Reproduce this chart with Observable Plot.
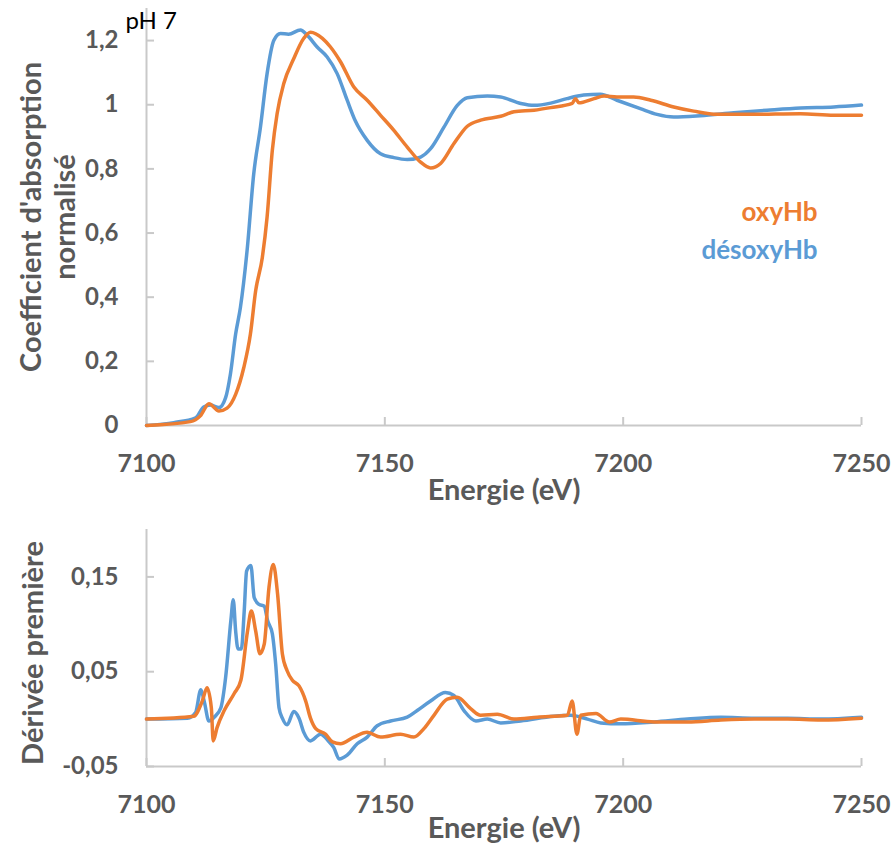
<!DOCTYPE html>
<html>
<head>
<meta charset="utf-8">
<script src="https://cdn.jsdelivr.net/npm/d3@7"></script>
<script src="https://cdn.jsdelivr.net/npm/@observablehq/plot@0.6"></script>
<style>
  body { margin: 0; background: #fff; }
  #wrap { position: relative; width: 893px; height: 843px; font-family: Lato, "Open Sans", sans-serif; }
  #top, #bottom { position: absolute; left: 0; }
  #top { top: 0; }
  #bottom { top: 515px; }
</style>
</head>
<body>
<div id="wrap"><div id="top"></div><div id="bottom"></div></div>
<script>
// ---- Data ----
const xTicks = [7100, 7150, 7200, 7250];
const yTicksTop = [0, 0.2, 0.4, 0.6, 0.8, 1, 1.2];
const yTickLabelsTop = ["0", "0,2", "0,4", "0,6", "0,8", "1", "1,2"];
const yTicksBottom = [-0.05, 0.05, 0.15];
const yTickLabelsBottom = ["-0,05", "0,05", "0,15"];
const seriesNames = ["oxyHb", "désoxyHb"];

// normalized absorption, désoxyHb
const deoxyE = [7100, 7105.7, 7110.3, 7112.0, 7113.4, 7115.2, 7116.6, 7117.6, 7118.7, 7119.7, 7121.1, 7122.5, 7123.9, 7125.3, 7126.7, 7128.1, 7129.8, 7132.3, 7133.7, 7135.8, 7137.9, 7140.0, 7142.1, 7143.8, 7146.3, 7149.1, 7151.9, 7154.7, 7157.5, 7159.6, 7162.4, 7165.2, 7167.3, 7171.5, 7174.3, 7178.5, 7181.3, 7184.8, 7188.2, 7191.7, 7195.2, 7198.7, 7203.6, 7207.1, 7210.6, 7216.2, 7223.2, 7230.2, 7237.2, 7244.2, 7250];
const deoxyMu = [0, 0.009, 0.024, 0.058, 0.064, 0.056, 0.087, 0.16, 0.285, 0.368, 0.545, 0.785, 0.93, 1.097, 1.20, 1.222, 1.22, 1.233, 1.217, 1.18, 1.149, 1.097, 1.014, 0.95, 0.889, 0.847, 0.835, 0.829, 0.837, 0.863, 0.93, 0.998, 1.022, 1.027, 1.024, 1.004, 0.998, 1.005, 1.019, 1.03, 1.033, 1.014, 0.988, 0.97, 0.962, 0.966, 0.975, 0.983, 0.99, 0.993, 0.999];

// normalized absorption, oxyHb
const oxyE = [7100, 7109.2, 7111.3, 7113.1, 7115.2, 7116.9, 7118.7, 7120.4, 7121.8, 7122.9, 7124.3, 7125.3, 7126.4, 7127.4, 7128.8, 7130.9, 7133.0, 7134.4, 7136.9, 7138.6, 7140.7, 7143.5, 7146.3, 7149.1, 7151.9, 7154.7, 7157.5, 7159.6, 7161.7, 7164.5, 7167.3, 7170.1, 7174.3, 7177.1, 7181.3, 7184.8, 7189.3, 7190.0, 7190.7, 7193.9, 7196.0, 7198.7, 7202.2, 7205.8, 7210.6, 7214.8, 7219.7, 7226.7, 7237.2, 7244.2, 7250];
const oxyMu = [0, 0.012, 0.03, 0.068, 0.045, 0.054, 0.097, 0.18, 0.285, 0.42, 0.524, 0.65, 0.858, 0.972, 1.066, 1.144, 1.207, 1.226, 1.207, 1.18, 1.134, 1.055, 1.014, 0.967, 0.92, 0.868, 0.821, 0.803, 0.817, 0.879, 0.933, 0.952, 0.964, 0.978, 0.983, 0.991, 1.004, 1.019, 1.006, 1.019, 1.027, 1.024, 1.024, 1.014, 0.993, 0.98, 0.97, 0.97, 0.972, 0.967, 0.967];

// first derivative, désoxyHb
const dDeoxyE = [7100, 7108.6, 7110.3, 7111.4, 7112.1, 7113.1, 7114.2, 7115.6, 7116.6, 7117.7, 7118.2, 7118.7, 7119.2, 7119.9, 7120.5, 7121.0, 7121.9, 7122.6, 7123.6, 7124.7, 7125.4, 7126.4, 7127.1, 7127.8, 7128.5, 7129.5, 7130.9, 7132.0, 7133.0, 7134.4, 7136.5, 7138.3, 7139.3, 7140.4, 7142.1, 7144.2, 7146.3, 7148.4, 7151.2, 7154.7, 7156.8, 7159.6, 7162.7, 7164.5, 7166.6, 7169.1, 7171.5, 7174.3, 7178.5, 7185.5, 7189.0, 7192.5, 7195.3, 7199.5, 7206.5, 7213.5, 7220.5, 7227.5, 7234.5, 7241.5, 7250];
const dDeoxy = [0, 0.001, 0.007, 0.031, 0.019, -0.002, 0.002, 0.012, 0.044, 0.104, 0.126, 0.093, 0.074, 0.074, 0.114, 0.156, 0.162, 0.128, 0.121, 0.119, 0.104, 0.090, 0.058, 0.012, 0.001, -0.006, 0.008, 0.001, -0.014, -0.023, -0.016, -0.024, -0.03, -0.042, -0.038, -0.026, -0.019, -0.007, -0.002, 0.002, 0.009, 0.019, 0.028, 0.025, 0.009, -0.002, 0, -0.004, -0.002, 0.003, 0.004, 0, -0.004, -0.005, -0.003, 0, 0.002, 0.001, 0.001, 0, 0.002];

// first derivative, oxyHb
const dOxyE = [7100, 7109.9, 7111.7, 7112.7, 7113.6, 7114.0, 7114.8, 7116.3, 7118.4, 7119.8, 7121.2, 7122.0, 7122.9, 7123.8, 7124.7, 7125.7, 7126.6, 7127.5, 7128.5, 7129.5, 7130.6, 7132.0, 7133.4, 7134.4, 7135.5, 7137.6, 7139.0, 7140.7, 7143.5, 7146.3, 7149.1, 7153.3, 7156.1, 7158.2, 7160.3, 7163.1, 7165.2, 7168.0, 7170.1, 7173.6, 7177.1, 7182.0, 7188.3, 7189.3, 7190.3, 7191.1, 7194.3, 7197.1, 7199.5, 7206.5, 7213.5, 7220.5, 7227.5, 7234.5, 7241.5, 7250];
const dOxy = [0, 0.003, 0.019, 0.033, 0.012, -0.023, -0.009, 0.009, 0.027, 0.041, 0.093, 0.114, 0.093, 0.069, 0.079, 0.139, 0.163, 0.132, 0.069, 0.051, 0.041, 0.035, 0.019, 0.001, -0.010, -0.016, -0.024, -0.026, -0.019, -0.014, -0.019, -0.016, -0.019, -0.010, 0.004, 0.021, 0.023, 0.011, 0.004, 0.005, 0, 0.002, 0.004, 0.019, -0.016, 0.004, 0.006, -0.003, 0, -0.003, -0.003, -0.001, 0, 0, -0.001, 0.001];

// ---- Build tables ----
const zip = (xs, ys) => xs.map((e, i) => ({e, v: ys[i]}));
const topDeoxy = zip(deoxyE, deoxyMu);
const topOxy = zip(oxyE, oxyMu);
const botDeoxy = zip(dDeoxyE, dDeoxy);
const botOxy = zip(dOxyE, dOxy);

const ORANGE = "#ED7D31", BLUE = "#5B9BD5", AXIS = "#C9C9C9", TXT = "#595959";
const FONT = "Lato, 'Open Sans', sans-serif";

function axes(yTicks, yLabels, yMin) {
  return [
    Plot.ruleX([7100], {stroke: AXIS, strokeWidth: 2}),
    Plot.ruleY([yMin], {stroke: AXIS, strokeWidth: 2}),
    Plot.axisY({ticks: yTicks, tickSize: -8, tickPadding: 36, stroke: AXIS, strokeWidth: 2,
      fill: TXT, tickFormat: (d) => yLabels[yTicks.indexOf(d)], fontSize: 24, fontWeight: "bold", fontFamily: FONT, label: null}),
    Plot.axisX({ticks: xTicks, tickSize: -8, tickPadding: 46, lineAnchor: "middle", stroke: AXIS, strokeWidth: 2,
      fill: TXT, tickFormat: (d) => String(d), fontSize: 25, fontWeight: "bold", fontFamily: FONT, label: null})
  ];
}

const titleStyle = {fontSize: 29, fontWeight: "bold", fill: TXT, fontFamily: FONT, lineAnchor: "middle"};

const topPlot = Plot.plot({
  width: 893, height: 515,
  marginLeft: 146, marginRight: 32, marginTop: 8, marginBottom: 90,
  style: {fontFamily: FONT, background: "white", overflow: "visible"},
  x: {domain: [7100, 7250]},
  y: {domain: [0, 1.3]},
  marks: [
    ...axes(yTicksTop, yTickLabelsTop, 0),
    Plot.line(topDeoxy, {x: "e", y: "v", stroke: BLUE, strokeWidth: 3.5, curve: "monotone-x"}),
    Plot.line(topOxy, {x: "e", y: "v", stroke: ORANGE, strokeWidth: 3.5, curve: "monotone-x"}),
    Plot.text(["pH 7"], {frameAnchor: "top-left", dx: -21, dy: 13, textAnchor: "start", lineAnchor: "middle",
      fontSize: 24, fill: "#000", fontFamily: FONT}),
    Plot.text([seriesNames[0]], {frameAnchor: "top-right", dx: -44, dy: 204, textAnchor: "end", lineAnchor: "middle",
      fontSize: 26, fontWeight: "bold", fill: ORANGE, fontFamily: FONT}),
    Plot.text([seriesNames[1]], {frameAnchor: "top-right", dx: -44, dy: 242, textAnchor: "end", lineAnchor: "middle",
      fontSize: 26, fontWeight: "bold", fill: BLUE, fontFamily: FONT}),
    Plot.text(["Energie (eV)"], {frameAnchor: "bottom", dy: 65, textAnchor: "middle", ...titleStyle}),
    Plot.text(["Coefficient d'absorption"], {frameAnchor: "left", dx: -115, rotate: -90, textAnchor: "middle", ...titleStyle}),
    Plot.text(["normalisé"], {frameAnchor: "left", dx: -81, rotate: -90, textAnchor: "middle", ...titleStyle})
  ]
});

const bottomPlot = Plot.plot({
  width: 893, height: 328,
  marginLeft: 146, marginRight: 32, marginTop: 14, marginBottom: 77,
  style: {fontFamily: FONT, background: "white", overflow: "visible"},
  x: {domain: [7100, 7250]},
  y: {domain: [-0.05, 0.2]},
  marks: [
    ...axes(yTicksBottom, yTickLabelsBottom, -0.05),
    Plot.line(botDeoxy, {x: "e", y: "v", stroke: BLUE, strokeWidth: 3.5, curve: "monotone-x"}),
    Plot.line(botOxy, {x: "e", y: "v", stroke: ORANGE, strokeWidth: 3.5, curve: "monotone-x"}),
    Plot.text(["Energie (eV)"], {frameAnchor: "bottom", dy: 62, textAnchor: "middle", ...titleStyle}),
    Plot.text(["Dérivée première"], {frameAnchor: "left", dx: -113, dy: 5, rotate: -90, textAnchor: "middle", ...titleStyle})
  ]
});

document.getElementById("top").appendChild(topPlot);
document.getElementById("bottom").appendChild(bottomPlot);
</script>
</body>
</html>
